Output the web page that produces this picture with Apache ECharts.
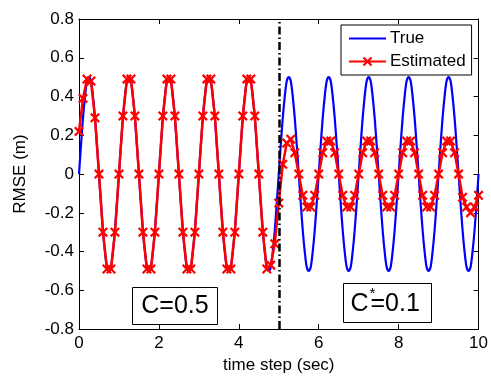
<!DOCTYPE html>
<html>
<head>
<meta charset="utf-8">
<script src="https://cdn.jsdelivr.net/npm/echarts@6/dist/echarts.min.js"></script>
<style>
  html, body { margin: 0; padding: 0; background: #fff; }
  #chart { width: 491px; height: 379px; }
</style>
</head>
<body>
<div id="chart"></div>
<script>
// true signal, sampled every 0.05 s
var trueStep = 0.05;
var trueVals = [
    0, 0.15, 0.29, 0.4, 0.48, 0.5, 0.48, 0.4, 0.29, 0.15, 0, -0.15, -0.29, -0.4, -0.48, -0.5, -0.48, -0.4, -0.29, -0.15,
    0, 0.15, 0.29, 0.4, 0.48, 0.5, 0.48, 0.4, 0.29, 0.15, 0, -0.15, -0.29, -0.4, -0.48, -0.5, -0.48, -0.4, -0.29, -0.15,
    0, 0.15, 0.29, 0.4, 0.48, 0.5, 0.48, 0.4, 0.29, 0.15, 0, -0.15, -0.29, -0.4, -0.48, -0.5, -0.48, -0.4, -0.29, -0.15,
    0, 0.15, 0.29, 0.4, 0.48, 0.5, 0.48, 0.4, 0.29, 0.15, 0, -0.15, -0.29, -0.4, -0.48, -0.5, -0.48, -0.4, -0.29, -0.15,
    0, 0.15, 0.29, 0.4, 0.48, 0.5, 0.48, 0.4, 0.29, 0.15, 0, -0.15, -0.29, -0.4, -0.48, -0.5, -0.48, -0.4, -0.29, -0.15,
    0, 0.15, 0.29, 0.4, 0.48, 0.5, 0.48, 0.4, 0.29, 0.15, 0, -0.15, -0.29, -0.4, -0.48, -0.5, -0.48, -0.4, -0.29, -0.15,
    0, 0.15, 0.29, 0.4, 0.48, 0.5, 0.48, 0.4, 0.29, 0.15, 0, -0.15, -0.29, -0.4, -0.48, -0.5, -0.48, -0.4, -0.29, -0.15,
    0, 0.15, 0.29, 0.4, 0.48, 0.5, 0.48, 0.4, 0.29, 0.15, 0, -0.15, -0.29, -0.4, -0.48, -0.5, -0.48, -0.4, -0.29, -0.15,
    0, 0.15, 0.29, 0.4, 0.48, 0.5, 0.48, 0.4, 0.29, 0.15, 0, -0.15, -0.29, -0.4, -0.48, -0.5, -0.48, -0.4, -0.29, -0.15,
    0, 0.15, 0.29, 0.4, 0.48, 0.5, 0.48, 0.4, 0.29, 0.15, 0, -0.15, -0.29, -0.4, -0.48, -0.5, -0.48, -0.4, -0.29, -0.15,
    0
];
// estimate, sampled every 0.1 s
var estStep = 0.1;
var estVals = [
    0.22, 0.39, 0.49, 0.48, 0.29, 0, -0.3, -0.49, -0.49, -0.3,
    0, 0.3, 0.49, 0.49, 0.3, 0, -0.3, -0.49, -0.49, -0.3,
    0, 0.3, 0.49, 0.49, 0.3, 0, -0.3, -0.49, -0.49, -0.3,
    0, 0.3, 0.49, 0.49, 0.3, 0, -0.3, -0.49, -0.49, -0.3,
    0, 0.3, 0.49, 0.49, 0.3, 0, -0.3, -0.49, -0.47, -0.36,
    -0.15, 0.05, 0.16, 0.18, 0.11, 0, -0.11, -0.17, -0.17, -0.11,
    0, 0.11, 0.17, 0.17, 0.11, 0, -0.11, -0.17, -0.17, -0.11,
    0, 0.11, 0.17, 0.17, 0.11, 0, -0.11, -0.17, -0.17, -0.11,
    0, 0.11, 0.17, 0.17, 0.11, 0, -0.11, -0.17, -0.17, -0.11,
    0, 0.11, 0.17, 0.17, 0.11, 0, -0.12, -0.17, -0.2, -0.17,
    -0.11
];
var switchTime = 5;
var xTicks = [0, 2, 4, 6, 8, 10];
var yTicks = [-0.8, -0.6, -0.4, -0.2, 0, 0.2, 0.4, 0.6, 0.8];

function toPairs(vals, step) {
    var out = [];
    for (var i = 0; i < vals.length; i++) {
        out.push([+(i * step).toFixed(2), vals[i]]);
    }
    return out;
}

var font = 'Liberation Sans, Arial, Helvetica, sans-serif';
var xMark = 'path://M0,1.6 L1.6,0 L5,3.4 L8.4,0 L10,1.6 L6.6,5 L10,8.4 L8.4,10 L5,6.6 L1.6,10 L0,8.4 L3.4,5 Z';

// matlab-style box: all four axes with inward ticks
function frameAxis(pos, isX) {
    var ax = {
        type: 'value',
        position: pos,
        min: isX ? xTicks[0] : yTicks[0],
        max: isX ? xTicks[xTicks.length - 1] : yTicks[yTicks.length - 1],
        interval: isX ? 2 : 0.2,
        axisLine: { show: true, onZero: false, lineStyle: { color: '#000', width: 1 } },
        axisTick: { show: true, inside: true, length: 5, lineStyle: { color: '#000' } },
        axisLabel: { show: false },
        splitLine: { show: false }
    };
    return ax;
}

var xMain = frameAxis('bottom', true);
xMain.name = 'time step (sec)';
xMain.nameLocation = 'middle';
xMain.nameGap = 24;
xMain.nameTextStyle = { fontFamily: font, fontSize: 17, color: '#000' };
xMain.axisLabel = { show: true, fontFamily: font, fontSize: 17, color: '#000', margin: 6 };

var yMain = frameAxis('left', false);
yMain.name = 'RMSE (m)';
yMain.nameLocation = 'middle';
yMain.nameGap = 50;
yMain.nameTextStyle = { fontFamily: font, fontSize: 17, color: '#000' };
yMain.axisLabel = {
    show: true, fontFamily: font, fontSize: 17, color: '#000', margin: 5,
    formatter: function (value) {
        if (Math.abs(value) < 1e-9) return '0';
        return value.toFixed(1);
    }
};

var myChart = echarts.init(document.getElementById('chart'), null, { renderer: 'canvas' });
var option = {
    animation: false,
    backgroundColor: '#fff',
    textStyle: { fontFamily: font },
    grid: { left: 79, right: 10, top: 19, bottom: 44, containLabel: false },
    legend: {
        data: [
            { name: 'True', itemStyle: { opacity: 0 } },
            { name: 'Estimated' }
        ],
        orient: 'vertical',
        left: 341,
        top: 25,
        padding: [5, 6, 5, 7],
        itemWidth: 37,
        itemHeight: 12,
        itemGap: 6,
        backgroundColor: '#fff',
        borderColor: '#000',
        borderWidth: 1,
        textStyle: { fontFamily: font, fontSize: 17, color: '#000', padding: [0, 0, 0, -1] }
    },
    xAxis: [xMain, frameAxis('top', true)],
    yAxis: [yMain, frameAxis('right', false)],
    series: [{
        name: 'True',
        type: 'line',
        data: toPairs(trueVals, trueStep),
        smooth: 0.3,
        symbol: 'none',
        color: '#0000ff',
        lineStyle: { color: '#0000ff', width: 2.2 },
        markLine: {
            silent: true,
            symbol: 'none',
            label: { show: false },
            lineStyle: { color: '#000', width: 2.5, type: [8, 3, 1.5, 3] },
            data: [{ xAxis: switchTime }]
        },
        z: 2
    }, {
        name: 'Estimated',
        type: 'line',
        data: toPairs(estVals, estStep),
        symbol: xMark,
        symbolSize: 10,
        showSymbol: true,
        showAllSymbol: true,
        color: '#ff0000',
        itemStyle: { color: '#ff0000' },
        lineStyle: { color: '#ff0000', width: 2.5 },
        z: 3
    }],
    graphic: [{
        type: 'group',
        left: 132,
        top: 287,
        children: [{
            type: 'rect',
            shape: { x: 0, y: 0, width: 85, height: 37 },
            style: { fill: '#fff', stroke: '#000', lineWidth: 1 }
        }, {
            type: 'text',
            x: 42.5,
            y: 19,
            style: { text: 'C=0.5', font: '25px ' + font, fill: '#000', align: 'center', verticalAlign: 'middle' }
        }]
    }, {
        type: 'group',
        left: 343,
        top: 283,
        children: [{
            type: 'rect',
            shape: { x: 0, y: 0, width: 88, height: 39 },
            style: { fill: '#fff', stroke: '#000', lineWidth: 1 }
        }, {
            type: 'text',
            x: 7,
            y: 21,
            style: { text: 'C', font: '25px ' + font, fill: '#000', align: 'left', verticalAlign: 'middle' }
        }, {
            type: 'text',
            x: 26,
            y: 10,
            style: { text: '*', font: '15px ' + font, fill: '#000', align: 'left', verticalAlign: 'middle' }
        }, {
            type: 'text',
            x: 27,
            y: 21,
            style: { text: '=0.1', font: '25px ' + font, fill: '#000', align: 'left', verticalAlign: 'middle' }
        }]
    }]
};
myChart.setOption(option);
</script>
</body>
</html>
